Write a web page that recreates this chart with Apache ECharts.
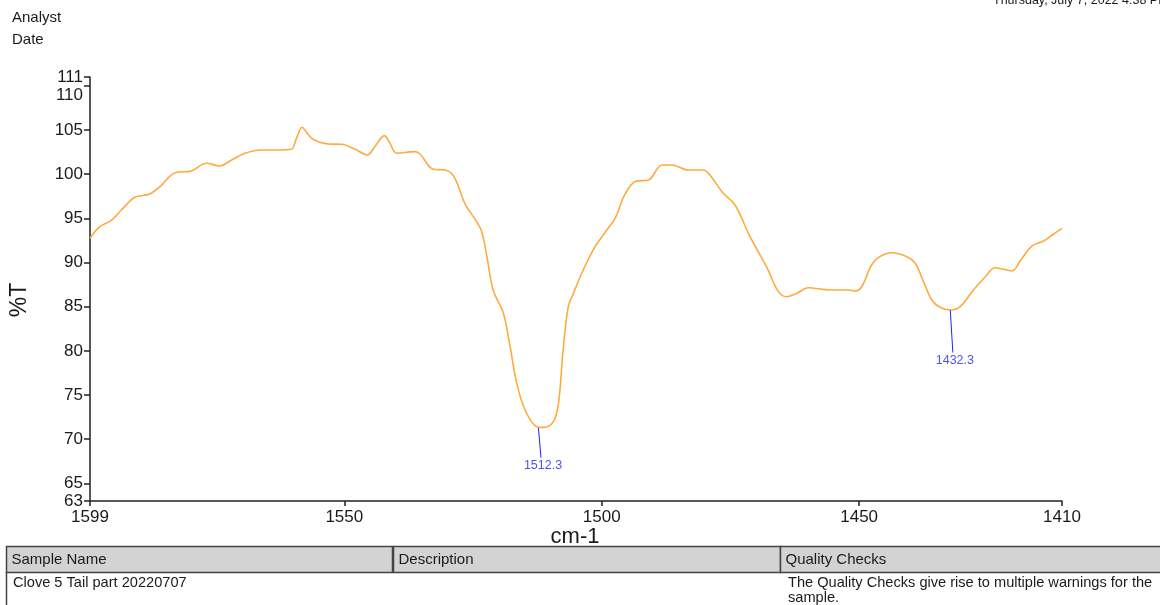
<!DOCTYPE html>
<html>
<head>
<meta charset="utf-8">
<script src="https://cdn.jsdelivr.net/npm/echarts@6/dist/echarts.min.js"></script>
<style>
html,body{margin:0;padding:0;background:#fff;}
#chart{width:1160px;height:605px;}
</style>
</head>
<body>
<div id="chart"></div>
<script>
// ---- data ----
const wavenumber = [
  1599.4,1597.5,1595.2,1593.3,1590.7,1587.8,1585.5,1582.9,1579.7,1576.8,
  1574.2,1571.9,1569.3,1566.1,1562.8,1560.3,1559.3,1558.2,1557.4,1556.1,
  1553.1,1550.5,1548.0,1545.5,1544.1,1542.2,1541.3,1539.8,1536.3,1535.3,
  1532.7,1530.4,1529.2,1528.2,1526.6,1524.3,1523.3,1522.3,1521.1,1519.1,
  1517.8,1516.5,1514.9,1512.6,1511.3,1509.4,1508.4,1507.5,1506.5,1505.5,
  1503.6,1501.3,1499.0,1497.4,1495.6,1493.4,1490.9,1488.3,1486.4,1483.2,
  1480.3,1479.0,1476.4,1474.1,1471.2,1468.0,1465.7,1464.1,1462.1,1459.9,
  1455.7,1452.1,1450.8,1449.5,1447.6,1446.0,1443.7,1440.7,1439.1,1437.5,
  1435.9,1434.3,1432.3,1430.4,1427.8,1425.5,1423.6,1421.9,1420.3,1418.6,
  1416.4,1414.1,1412.5,1410.6
];
const transmittance = [
  92.74,94.05,94.81,95.94,97.38,97.76,98.77,100.17,100.36,101.23,
  100.93,101.6,102.36,102.74,102.74,102.82,104.06,105.31,104.81,103.95,
  103.42,103.38,102.85,102.17,103.11,104.36,103.68,102.36,102.55,102.28,
  100.55,100.47,100.1,99.15,96.7,94.62,93.49,90.66,86.89,84.25,
  80.47,76.32,73.3,71.41,71.34,71.98,74.06,80.1,85.0,86.51,
  89.15,91.79,93.68,95.0,97.6,99.2,99.34,101.04,101.04,100.47,
  100.47,99.91,97.84,96.51,92.92,89.53,86.7,86.13,86.51,87.15,
  86.89,86.89,86.77,87.26,89.72,90.66,91.11,90.66,89.91,87.83,
  85.76,84.93,84.62,85.0,86.89,88.39,89.41,89.23,89.04,90.28,
  91.87,92.47,93.11,93.87
];
const xAxisMin = 1599.4;
const xAxisMax = 1410.6;
const xTickValues = [1599.4, 1550, 1500, 1450, 1410.6];
const xTickLabels = ['1599', '1550', '1500', '1450', '1410'];
const yTickValues = [63, 65, 70, 75, 80, 85, 90, 95, 100, 105, 110, 111];
const peakLabels = ['1512.3', '1432.3'];
const peakX = [1512.3, 1432.3];
const peakY = [71.3, 84.6];
const leaderEndX = [1511.8, 1431.8];
const leaderEndY = [67.9, 79.8];

const FONT = '"Liberation Sans", Arial, sans-serif';
const TXT = '#1a1a1a';

const chart = echarts.init(document.getElementById('chart'), null, {renderer: 'canvas'});

const series = [{
  type: 'line',
  data: wavenumber.map((w, i) => [w, transmittance[i]]),
  smooth: 0.35,
  symbol: 'none',
  lineStyle: {color: '#FFAA3C', width: 1.6},
  z: 3,
  silent: true
}];
peakLabels.forEach((lab, i) => {
  series.push({
    type: 'line',
    data: [[peakX[i], peakY[i]], [leaderEndX[i], leaderEndY[i]]],
    symbol: 'none',
    lineStyle: {color: '#2222ff', width: 1},
    silent: true,
    z: 4
  });
  series.push({
    type: 'scatter',
    data: [[leaderEndX[i], leaderEndY[i]]],
    symbolSize: 1,
    itemStyle: {color: 'rgba(0,0,0,0)'},
    label: {
      show: true, position: 'bottom', distance: 1, offset: [2, 0],
      formatter: lab, color: '#2222ff', fontSize: 12.5, fontFamily: FONT
    },
    silent: true,
    z: 5
  });
});

const headerCells = [
  {x: 6, w: 386, text: 'Sample Name'},
  {x: 393, w: 387, text: 'Description'},
  {x: 780, w: 390, text: 'Quality Checks'}
];
const graphics = [
  {type: 'text', left: 12, top: 10, style: {text: 'Analyst', fill: TXT, font: '15px ' + FONT}},
  {type: 'text', left: 12, top: 32, style: {text: 'Date', fill: TXT, font: '15px ' + FONT}},
  {type: 'text', left: 993, top: -5.5, style: {text: 'Thursday, July 7, 2022 4:38 PM', fill: TXT, font: '12.5px ' + FONT}},
  {type: 'text', x: 20, y: 300, rotation: Math.PI / 2,
   style: {text: '%T', fill: TXT, font: '23px ' + FONT, align: 'center', verticalAlign: 'middle'}},
  {type: 'text', x: 575, y: 537, style: {text: 'cm-1', fill: TXT, font: '22px ' + FONT, align: 'center', verticalAlign: 'middle'}}
];
headerCells.forEach(c => {
  graphics.push({type: 'rect', shape: {x: c.x + 0.5, y: 546.5, width: c.w, height: 26},
    style: {fill: '#d3d3d3', stroke: '#444', lineWidth: 1.5}});
  graphics.push({type: 'text', x: c.x + 5.5, y: 559.5,
    style: {text: c.text, fill: TXT, font: '15px ' + FONT, verticalAlign: 'middle'}});
});
graphics.push({type: 'line', shape: {x1: 6.5, y1: 572, x2: 6.5, y2: 605}, style: {stroke: '#444', lineWidth: 1.5}});
graphics.push({type: 'text', x: 13, y: 583, style: {text: 'Clove 5 Tail part 20220707', fill: TXT, font: '14.6px ' + FONT, verticalAlign: 'middle'}});
graphics.push({type: 'text', x: 788, y: 583, style: {text: 'The Quality Checks give rise to multiple warnings for the', fill: TXT, font: '14.6px ' + FONT, verticalAlign: 'middle'}});
graphics.push({type: 'text', x: 788, y: 598, style: {text: 'sample.', fill: TXT, font: '14.6px ' + FONT, verticalAlign: 'middle'}});

chart.setOption({
  backgroundColor: '#fff',
  animation: false,
  grid: {left: 90, right: 98, top: 77, bottom: 104, containLabel: false, outerBoundsMode: 'none'},
  xAxis: {
    type: 'value', inverse: true, min: xAxisMax, max: xAxisMin,
    axisLine: {show: true, onZero: false, lineStyle: {color: '#222', width: 1.5}},
    axisTick: {show: true, length: 5, customValues: xTickValues, lineStyle: {color: '#222', width: 1.5}},
    axisLabel: {
      customValues: xTickValues, margin: 8, color: TXT, fontSize: 17, fontFamily: FONT,
      formatter: v => { const i = xTickValues.findIndex(t => Math.abs(t - v) < 0.01); return i >= 0 ? xTickLabels[i] : ''; }
    },
    splitLine: {show: false}
  },
  yAxis: {
    type: 'value', min: 63, max: 111,
    axisLine: {show: true, onZero: false, lineStyle: {color: '#222', width: 1.5}},
    axisTick: {show: true, length: 6, customValues: yTickValues, lineStyle: {color: '#222', width: 1.5}},
    axisLabel: {
      customValues: yTickValues, margin: 7, color: TXT, fontSize: 17, fontFamily: FONT,
      formatter: v => (Math.round(v) === 110 ? '{low|110}' : String(Math.round(v))),
      rich: {low: {padding: [19, 0, 0, 0], fontSize: 17, fontFamily: FONT, color: TXT}}
    },
    splitLine: {show: false}
  },
  series: series,
  graphic: graphics
});
</script>
</body>
</html>
